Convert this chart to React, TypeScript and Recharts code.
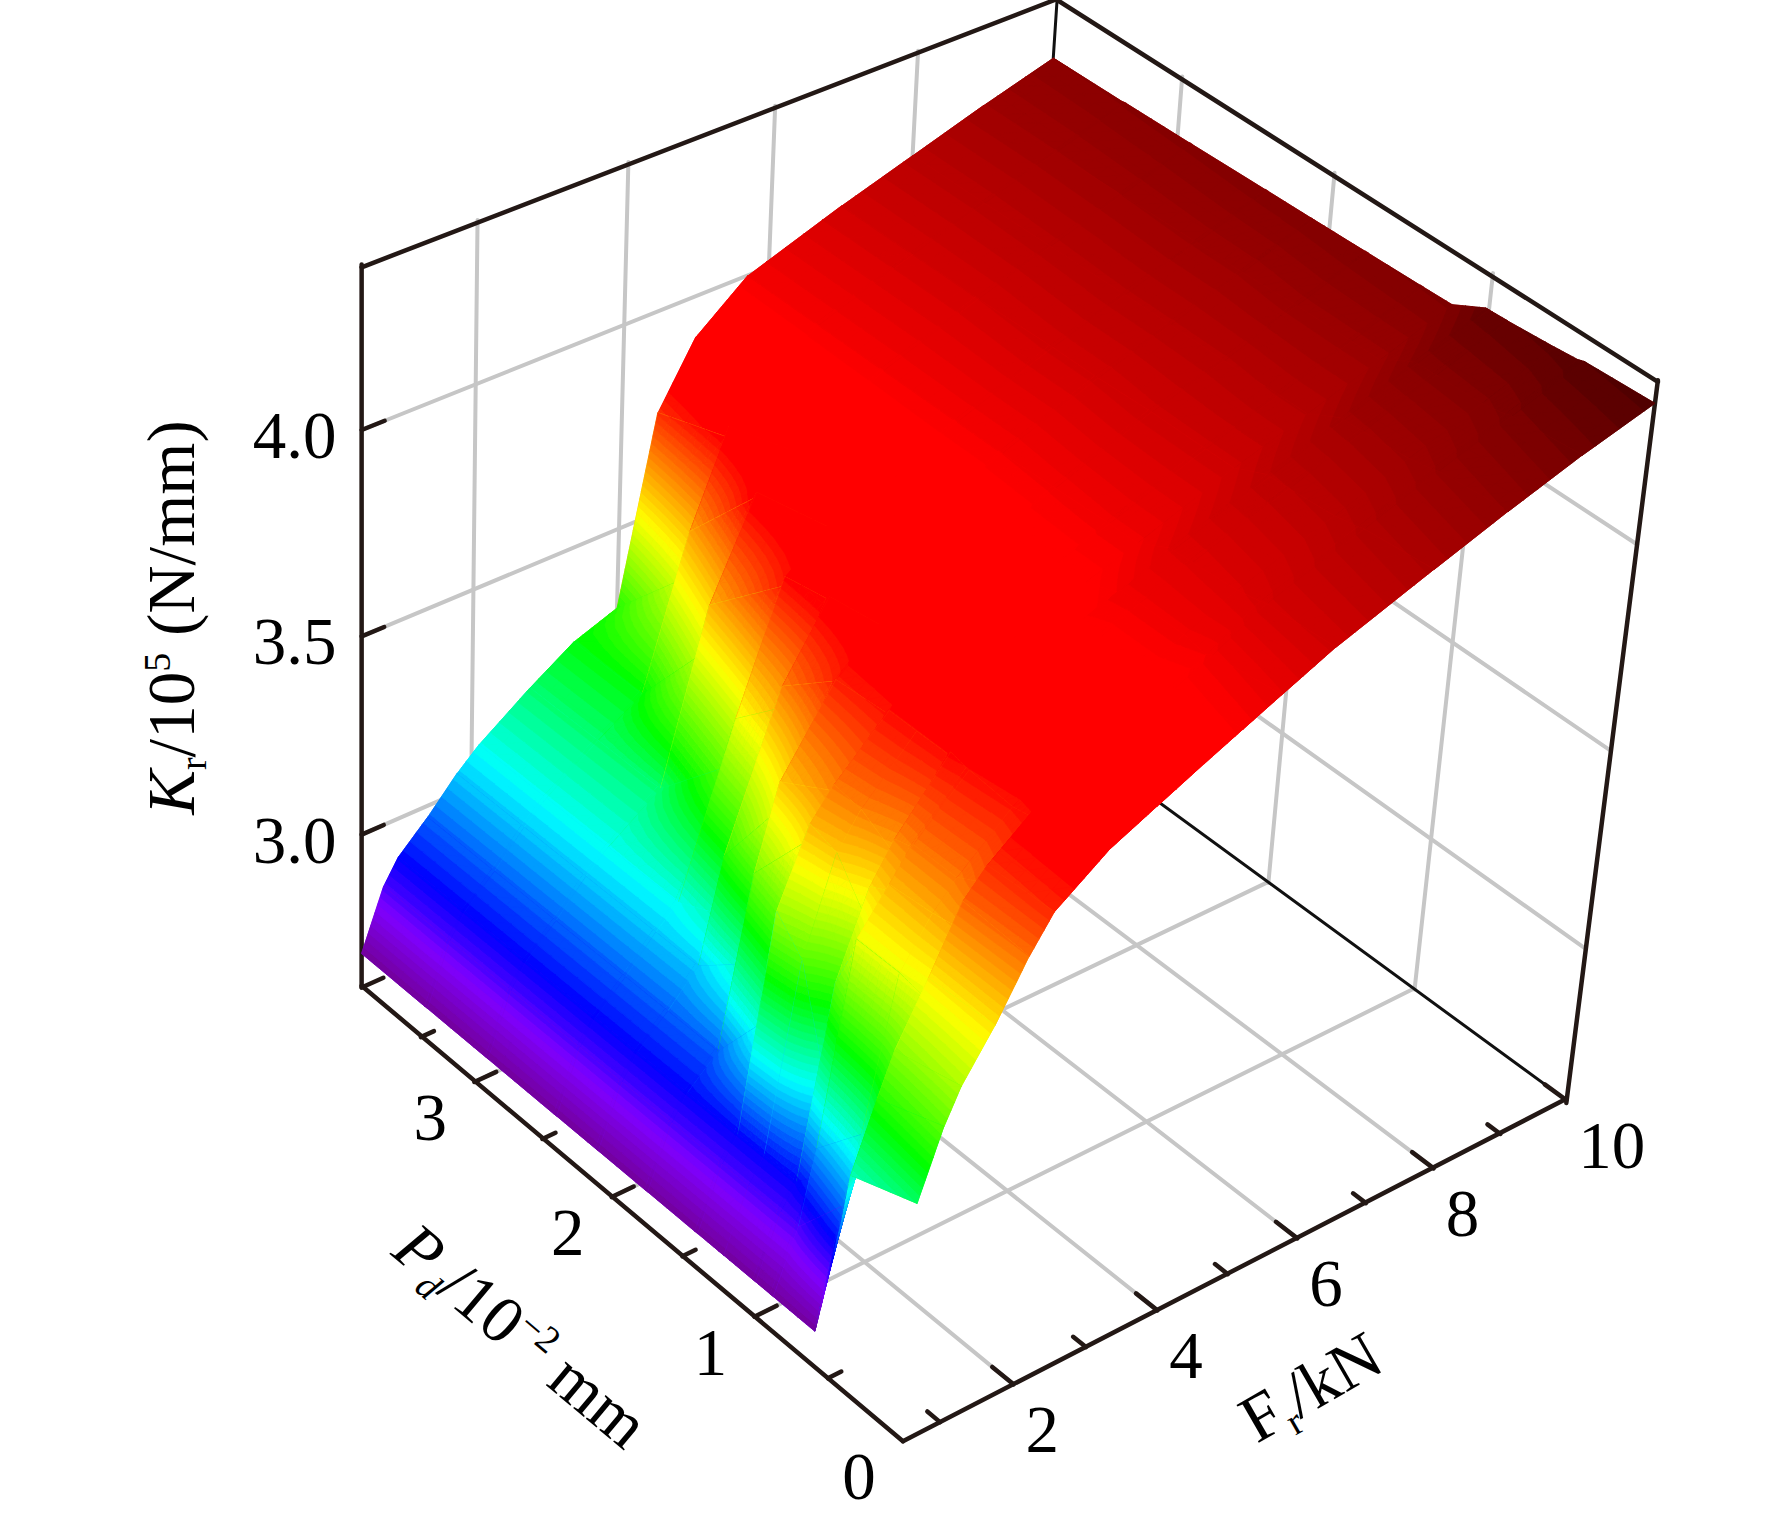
import React from "react";
import { ScatterChart, Scatter, XAxis, YAxis } from "recharts";

const WIDTH = 1772;
const HEIGHT = 1523;

// grid of the surface
const FR_GRID = [0.5, 0.8, 1, 1.4, 1.8, 2.1, 2.8, 3.4, 4, 4.5, 5, 5.7, 7, 8, 9, 10];
const PD_GRID = [3.85, 3.37, 3.35, 2.92, 2.9, 2.42, 2.4, 2.12, 2.1, 1.77, 1.75, 1.42, 1.4, 1.22, 1.02, 1.0, 0.9, 0.88, 0.6, 0.46, 0.42, 0];

// Kr, one row per Pd
const KR_385 = [2.69, 2.84, 2.9, 2.97, 3.05, 3.1, 3.19, 3.26, 3.3, 3.75, 3.9, 4.0, 4.08, 4.135, 4.19, 4.24];
const KR_337 = [2.69, 2.84, 2.9, 2.97, 3.05, 3.1, 3.19, 3.26, 3.5, 3.81, 3.91, 4.0, 4.08, 4.135, 4.19, 4.242];
const KR_335 = [2.69, 2.84, 2.9, 2.97, 3.05, 3.1, 3.19, 3.26, 3.62, 3.84, 3.92, 4.0, 4.08, 4.135, 4.19, 4.243];
const KR_292 = [2.69, 2.84, 2.9, 2.97, 3.05, 3.1, 3.19, 3.48, 3.81, 3.89, 3.93, 4.0, 4.08, 4.137, 4.192, 4.246];
const KR_290 = [2.69, 2.84, 2.9, 2.97, 3.05, 3.1, 3.19, 3.6, 3.83, 3.89, 3.93, 4.0, 4.08, 4.137, 4.192, 4.246];
const KR_242 = [2.69, 2.84, 2.9, 2.97, 3.05, 3.1, 3.38, 3.77, 3.87, 3.91, 3.94, 4.0, 4.085, 4.14, 4.195, 4.25];
const KR_240 = [2.69, 2.84, 2.9, 2.97, 3.05, 3.1, 3.5, 3.8, 3.87, 3.91, 3.94, 4.0, 4.085, 4.14, 4.195, 4.25];
const KR_212 = [2.69, 2.84, 2.9, 2.97, 3.05, 3.15, 3.6, 3.82, 3.88, 3.91, 3.94, 4.0, 4.085, 4.14, 4.195, 4.252];
const KR_210 = [2.69, 2.84, 2.9, 2.97, 3.05, 3.3, 3.66, 3.83, 3.88, 3.92, 3.95, 4.0, 4.085, 4.14, 4.195, 4.252];
const KR_177 = [2.69, 2.84, 2.9, 2.97, 3.15, 3.5, 3.76, 3.85, 3.89, 3.92, 3.95, 4.005, 4.09, 4.14, 4.2, 4.255];
const KR_175 = [2.69, 2.84, 2.9, 2.97, 3.38, 3.58, 3.77, 3.85, 3.89, 3.93, 3.96, 4.005, 4.09, 4.14, 4.2, 4.255];
const KR_142 = [2.69, 2.84, 2.9, 3.15, 3.55, 3.65, 3.78, 3.86, 3.9, 3.93, 3.96, 4.01, 4.09, 4.145, 4.2, 4.258];
const KR_140 = [2.69, 2.84, 2.9, 3.42, 3.6, 3.67, 3.79, 3.86, 3.9, 3.94, 3.97, 4.01, 4.09, 4.145, 4.2, 4.258];
const KR_122 = [2.69, 2.84, 2.9, 3.35, 3.58, 3.66, 3.79, 3.86, 3.91, 3.94, 3.97, 4.01, 4.09, 4.145, 4.2, 4.26];
const KR_102 = [2.69, 2.84, 2.9, 3.08, 3.48, 3.62, 3.79, 3.87, 3.93, 3.97, 4.0, 4.05, 4.125, 4.185, 4.245, 4.3];
const KR_100 = [2.69, 2.84, 2.9, 3.36, 3.56, 3.65, 3.8, 3.88, 3.94, 3.98, 4.01, 4.05, 4.125, 4.185, 4.245, 4.3];
const KR_090 = [2.69, 2.84, 2.94, 3.46, 3.58, 3.66, 3.79, 3.87, 3.93, 3.97, 4.01, 4.052, 4.127, 4.187, 4.247, 4.302];
const KR_088 = [2.69, 2.84, 3.02, 3.5, 3.6, 3.67, 3.79, 3.87, 3.93, 3.97, 4.01, 4.052, 4.127, 4.187, 4.247, 4.302];
const KR_060 = [2.69, 2.98, 3.14, 3.5, 3.61, 3.67, 3.78, 3.86, 3.92, 3.97, 4.01, 4.06, 4.135, 4.195, 4.25, 4.31];
const KR_046 = [3.02, 3.2, 3.3, 3.49, 3.62, 3.7, 3.79, 3.85, 3.91, 3.96, 4.0, 4.07, 4.145, 4.205, 4.26, 4.315];
const KR_042 = [3.14, 3.3, 3.4, 3.54, 3.69, 3.75, 3.85, 3.89, 3.93, 3.97, 4.01, 4.075, 4.15, 4.21, 4.265, 4.32];
const KR_000 = [3.2, 3.36, 3.44, 3.55, 3.68, 3.76, 3.85, 3.9, 3.95, 3.99, 4.03, 4.085, 4.165, 4.225, 4.28, 4.327];
const KR_ROWS = [KR_385, KR_337, KR_335, KR_292, KR_290, KR_242, KR_240, KR_212, KR_210, KR_177, KR_175, KR_142, KR_140, KR_122, KR_102, KR_100, KR_090, KR_088, KR_060, KR_046, KR_042, KR_000];

// axis ticks
const FR_MAJOR = [2, 4, 6, 8, 10];
const FR_MINOR = [1, 3, 5, 7, 9];
const PD_MAJOR = [0, 1, 2, 3];
const PD_MINOR = [0.5, 1.5, 2.5, 3.4];
const KR_TICKS = [3.0, 3.5, 4.0];

const FR_MIN = 0.5, FR_MAX = 10;
const PD_MAX = 3.85;
const KR_MIN = 2.6, KR_MAX = 4.38;

const COLOR_STOPS: [number, number[]][] = [
  [2.66, [0x70, 0x00, 0x7f]],
  [2.8, [0x7f, 0x00, 0xff]],
  [2.9, [0x00, 0x00, 0xff]],
  [3.09, [0x00, 0xff, 0xff]],
  [3.27, [0x00, 0xff, 0x00]],
  [3.52, [0xff, 0xff, 0x00]],
  [3.8, [0xff, 0x00, 0x00]],
  [3.98, [0xff, 0x00, 0x00]],
  [4.26, [0x80, 0x00, 0x00]],
  [4.33, [0x50, 0x00, 0x00]],
];
const BAND = 0.016;

// perspective box: u along Fr, v along Pd, w along Kr
const S = 1772 / 1568;
function projectUVW(u: number, v: number, w: number) {
  const d = 1 + 0.06652 * u + 0.07767 * v - 0.07533 * w;
  return {
    x: (S * (799 + 679.2 * u - 454.15 * v - 24.1 * w)) / d,
    y: (S * (1275 - 238.34 * u - 335.27 * v - 707 * w)) / d,
  };
}
const U = (f: number) => (f - FR_MIN) / (FR_MAX - FR_MIN);
const V = (p: number) => p / PD_MAX;
const W = (k: number) => (k - KR_MIN) / (KR_MAX - KR_MIN);
const project = (f: number, p: number, k: number) => projectUVW(U(f), V(p), W(k));

function colorOf(k: number) {
  const st = COLOR_STOPS;
  if (k <= st[0][0]) return `rgb(${st[0][1].join(",")})`;
  for (let i = 1; i < st.length; i++) {
    if (k <= st[i][0]) {
      const t = (k - st[i - 1][0]) / (st[i][0] - st[i - 1][0]);
      const c = st[i][1].map((b, j) => Math.round(st[i - 1][1][j] + (b - st[i - 1][1][j]) * t));
      return `rgb(${c.join(",")})`;
    }
  }
  return `rgb(${st[st.length - 1][1].join(",")})`;
}

type Vtx = { f: number; p: number; k: number };

const pointsOf = (poly: Vtx[]) =>
  poly
    .map((q) => {
      const s = project(q.f, q.p, q.k);
      return `${s.x.toFixed(1)},${s.y.toFixed(1)}`;
    })
    .join(" ");

// keep the part of a polygon with k on one side of a level
function clip(poly: Vtx[], level: number, keepAbove: boolean) {
  const out: Vtx[] = [];
  for (let i = 0; i < poly.length; i++) {
    const a = poly[i];
    const b = poly[(i + 1) % poly.length];
    const aIn = keepAbove ? a.k >= level : a.k <= level;
    const bIn = keepAbove ? b.k >= level : b.k <= level;
    if (aIn) out.push(a);
    if (aIn !== bIn) {
      const t = (level - a.k) / (b.k - a.k);
      out.push({ f: a.f + (b.f - a.f) * t, p: a.p + (b.p - a.p) * t, k: level });
    }
  }
  return out;
}

function bandsOf(tri: Vtx[]) {
  const lo = Math.min(...tri.map((t) => t.k));
  const hi = Math.max(...tri.map((t) => t.k));
  const res: { pts: string; fill: string }[] = [];
  for (let n = Math.floor(lo / BAND) - 1; n * BAND <= hi; n++) {
    const a = n * BAND;
    const part = clip(clip(tri, a, true), a + BAND, false);
    if (part.length < 3) continue;
    res.push({ pts: pointsOf(part), fill: colorOf(a + BAND / 2) });
  }
  return res;
}

// colours a cell with its corners blended evenly, so no diagonal shows
function shadeCell(f0: number, f1: number, p0: number, p1: number, k00: number, k10: number, k11: number, k01: number) {
  const span = Math.max(k00, k10, k11, k01) - Math.min(k00, k10, k11, k01);
  const n = span > 0.03 ? 5 : 1;
  const at = (s: number, t: number): Vtx => ({
    f: f0 + (f1 - f0) * s,
    p: p0 + (p1 - p0) * t,
    k: (1 - t) * ((1 - s) * k00 + s * k10) + t * ((1 - s) * k01 + s * k11),
  });
  // an underlay in the cell's mean colour closes any pinhole between the bands
  const polys: { pts: string; fill: string }[] = [
    { pts: pointsOf([at(0, 0), at(1, 0), at(1, 1), at(0, 1)]), fill: colorOf((k00 + k10 + k11 + k01) / 4) },
  ];
  for (let i = n - 1; i >= 0; i--) {
    for (let j = 0; j < n; j++) {
      const a = at(i / n, j / n);
      const b = at((i + 1) / n, j / n);
      const c = at((i + 1) / n, (j + 1) / n);
      const d = at(i / n, (j + 1) / n);
      polys.push(...bandsOf([a, b, c]), ...bandsOf([a, c, d]));
    }
  }
  return polys;
}

// back to front, so nearer cells cover the farther ones
const cells: any[] = [];
for (let r = 0; r < PD_GRID.length - 1; r++) {
  for (let c = FR_GRID.length - 2; c >= 0; c--) {
    const at = project(FR_GRID[c], PD_GRID[r], KR_ROWS[r][c]);
    cells.push({
      x: at.x,
      y: at.y,
      polys: shadeCell(FR_GRID[c], FR_GRID[c + 1], PD_GRID[r], PD_GRID[r + 1], KR_ROWS[r][c], KR_ROWS[r][c + 1], KR_ROWS[r + 1][c + 1], KR_ROWS[r + 1][c]),
    });
  }
}

const seg = (a: { x: number; y: number }, b: { x: number; y: number }) => ({ x: a.x, y: a.y, x2: b.x, y2: b.y });

const gridSegs: any[] = [];
FR_MAJOR.slice(0, 4).forEach((f) => {
  gridSegs.push(seg(project(f, 0, KR_MIN), project(f, PD_MAX, KR_MIN)));
  gridSegs.push(seg(project(f, PD_MAX, KR_MIN), project(f, PD_MAX, KR_MAX)));
});
PD_MAJOR.slice(1).forEach((p) => {
  gridSegs.push(seg(project(FR_MIN, p, KR_MIN), project(FR_MAX, p, KR_MIN)));
  gridSegs.push(seg(project(FR_MAX, p, KR_MIN), project(FR_MAX, p, KR_MAX)));
});
KR_TICKS.forEach((k) => {
  gridSegs.push(seg(project(FR_MIN, PD_MAX, k), project(FR_MAX, PD_MAX, k)));
  gridSegs.push(seg(project(FR_MAX, PD_MAX, k), project(FR_MAX, 0, k)));
});

// thin black edges behind the surface
const backSegs = [
  seg(project(FR_MAX, 0, KR_MIN), project(FR_MAX, PD_MAX, KR_MIN)),
  seg(project(FR_MAX, PD_MAX, KR_MIN), project(FR_MAX, PD_MAX, KR_MAX)),
];

const frameSegs = [
  seg(project(FR_MIN, 0, KR_MIN), project(FR_MAX, 0, KR_MIN)),
  seg(project(FR_MIN, 0, KR_MIN), project(FR_MIN, PD_MAX, KR_MIN)),
  seg(project(FR_MIN, PD_MAX, KR_MIN), project(FR_MIN, PD_MAX, KR_MAX)),
  seg(project(FR_MIN, PD_MAX, KR_MAX), project(FR_MAX, PD_MAX, KR_MAX)),
  seg(project(FR_MAX, PD_MAX, KR_MAX), project(FR_MAX, 0, KR_MAX)),
  seg(project(FR_MAX, 0, KR_MAX), project(FR_MAX, 0, KR_MIN)),
];

const TICK_FR = 0.3;
const TICK_PD = 0.14;
const tickSegs = [
  ...FR_MAJOR.map((f) => seg(project(f, 0, KR_MIN), project(f, TICK_PD, KR_MIN))),
  ...FR_MINOR.map((f) => seg(project(f, 0, KR_MIN), project(f, TICK_PD * 0.6, KR_MIN))),
  ...PD_MAJOR.slice(1).concat(PD_MAX).map((p) => seg(project(FR_MIN, p, KR_MIN), project(FR_MIN + TICK_FR, p, KR_MIN))),
  ...PD_MINOR.map((p) => seg(project(FR_MIN, p, KR_MIN), project(FR_MIN + TICK_FR * 0.6, p, KR_MIN))),
  ...KR_TICKS.map((k) => seg(project(FR_MIN, PD_MAX, k), project(FR_MIN + TICK_FR, PD_MAX, k))),
];

const labelPts = [
  ...KR_TICKS.map((k) => {
    const a = project(FR_MIN, PD_MAX, k);
    return { x: a.x - 67, y: a.y + 5, text: k.toFixed(1), anchor: "middle" };
  }),
  ...PD_MAJOR.map((p) => {
    const a = project(FR_MIN, p, KR_MIN);
    return { x: a.x - 44, y: a.y + 35, text: String(p), anchor: "middle" };
  }),
  ...FR_MAJOR.map((f) => {
    const a = project(f, 0, KR_MIN);
    return { x: a.x + 12, y: a.y + 45, text: String(f), anchor: "start" };
  }),
];

const FONT = "'Liberation Serif', 'Times New Roman', serif";
const SIZE = 67;

const CellShape = (props: any) => {
  const { cx, cy, payload } = props;
  const dx = cx - payload.x;
  const dy = cy - payload.y;
  return (
    <g transform={`translate(${dx},${dy})`}>
      {payload.polys.map((q: any, i: number) => (
        <polygon key={i} points={q.pts} fill={q.fill} stroke={q.fill} strokeWidth={0.7} />
      ))}
    </g>
  );
};

const lineShape = (stroke: string, strokeWidth: number) => (props: any) => {
  const { cx, cy, payload } = props;
  return (
    <line x1={cx} y1={cy} x2={cx + payload.x2 - payload.x} y2={cy + payload.y2 - payload.y} stroke={stroke} strokeWidth={strokeWidth} strokeLinecap="round" />
  );
};

const LabelShape = (props: any) => {
  const { cx, cy, payload } = props;
  return (
    <text x={cx} y={cy} textAnchor={payload.anchor} dominantBaseline="central" fontFamily={FONT} fontSize={SIZE} fill="#000">
      {payload.text}
    </text>
  );
};

const sub = (text: string, drop: number, size: number, italic = false) => (
  <tspan dy={drop} fontSize={size} fontStyle={italic ? "italic" : "normal"}>{text}</tspan>
);

const AxisTitles = (props: any) => {
  const { cx, cy, payload } = props;
  const common = { fontFamily: FONT, fontSize: SIZE, fill: "#000", textAnchor: "middle" as const };
  if (payload.id === "kr") {
    return (
      <text x={cx} y={cy} transform={`rotate(-90 ${cx} ${cy})`} {...common}>
        <tspan fontStyle="italic">K</tspan>
        {sub("r", 12, 38)}
        <tspan dy={-12}>/10</tspan>
        {sub("5", -24, 38)}
        <tspan dy={24}> (N/mm)</tspan>
      </text>
    );
  }
  if (payload.id === "pd") {
    return (
      <text x={cx} y={cy} transform={`rotate(40 ${cx} ${cy})`} {...common}>
        <tspan fontStyle="italic">P</tspan>
        {sub("d", 12, 38, true)}
        <tspan dy={-12}>/10</tspan>
        {sub("−2", -24, 38)}
        <tspan dy={24}> mm</tspan>
      </text>
    );
  }
  return (
    <text x={cx} y={cy} transform={`rotate(-30 ${cx} ${cy})`} {...common}>
      F
      {sub("r", 12, 38)}
      <tspan dy={-12}>/kN</tspan>
    </text>
  );
};

const titlePts = [
  { x: 194, y: 614, id: "kr" },
  { x: 507, y: 1352, id: "pd" },
  { x: 1322, y: 1406, id: "fr" },
];

const GridLine = lineShape("#c6c6c6", 4);
const BackLine = lineShape("#111", 3);
const FrameLine = lineShape("#231815", 4.5);

export default function App() {
  return (
    <div style={{ position: "absolute", left: 0, top: 0, width: WIDTH, height: HEIGHT, background: "#fff" }}>
      <ScatterChart width={WIDTH} height={HEIGHT} margin={{ top: 0, right: 0, bottom: 0, left: 0 }}>
        <XAxis type="number" dataKey="x" domain={[0, WIDTH]} hide />
        <YAxis type="number" dataKey="y" domain={[0, HEIGHT]} reversed hide />
        <Scatter data={gridSegs} shape={GridLine} isAnimationActive={false} />
        <Scatter data={backSegs} shape={BackLine} isAnimationActive={false} />
        <Scatter data={tickSegs} shape={FrameLine} isAnimationActive={false} />
        <Scatter data={frameSegs} shape={FrameLine} isAnimationActive={false} />
        <Scatter data={cells} shape={CellShape} isAnimationActive={false} />
        <Scatter data={labelPts} shape={LabelShape} isAnimationActive={false} />
        <Scatter data={titlePts} shape={AxisTitles} isAnimationActive={false} />
      </ScatterChart>
    </div>
  );
}
